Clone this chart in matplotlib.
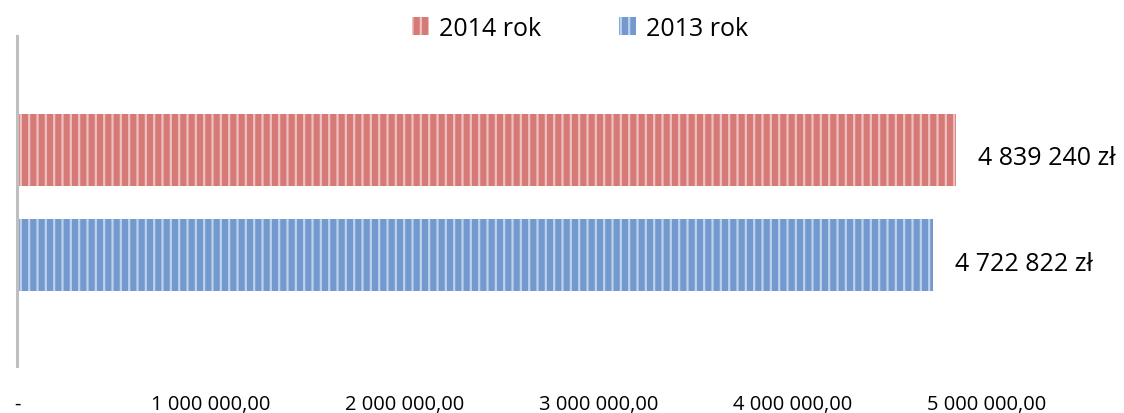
import matplotlib
matplotlib.use("Agg")
import matplotlib.pyplot as plt
from matplotlib.patches import Patch

plt.rcParams['font.family'] = ['Open Sans', 'DejaVu Sans']
plt.rcParams['hatch.linewidth'] = 1.6

series = ["2014 rok", "2013 rok"]
values = [4839240, 4722822]
labels = ["4 839 240 zł", "4 722 822 zł"]
colors = ["#D67A78", "#7399CF"]
stripe = ["#EEC0BF", "#BFD1EC"]
offsets = [0.155, -0.165]
xticks = [0, 1000000, 2000000, 3000000, 4000000, 5000000]
xticklabels = ["-", "1 000 000,00", "2 000 000,00", "3 000 000,00", "4 000 000,00", "5 000 000,00"]

fig = plt.figure(figsize=(11.24, 4.14), dpi=100)
ax = fig.add_axes([17/1124, 47/414, (1100-17)/1124, 330/414])
xmax = (1100 - 17) / 194 * 1e6
ax.set_xlim(0, xmax)
ax.set_ylim(-0.5, 0.5)

for v, c, s, off, lab in zip(values, colors, stripe, offsets, labels):
    ax.barh(off, v, height=0.218, color=c, edgecolor=s, hatch='||', linewidth=0)
    ax.annotate(lab, (v, off), xytext=(22, -8), textcoords='offset pixels',
                va='center', ha='left', fontsize=18, color='black')

ax.set_xticks(xticks)
ax.set_xticklabels(xticklabels, fontsize=14.5)
ax.tick_params(axis='x', length=0, pad=20)
ax.set_yticks([])
for sp in ['top', 'right', 'bottom']:
    ax.spines[sp].set_visible(False)
ax.spines['left'].set_color('#BFBFBF')
ax.spines['left'].set_linewidth(2.2)

handles = [Patch(facecolor=c, edgecolor=s, hatch='||', linewidth=0) for c, s in zip(colors, stripe)]
fig.legend(handles, series, loc='center', bbox_to_anchor=(580/1124, 1 - 29/414), ncol=2,
           frameon=False, fontsize=18, handlelength=0.7, handleheight=0.7,
           handletextpad=0.4, columnspacing=3.1)

fig.savefig("out.png", dpi=100)
